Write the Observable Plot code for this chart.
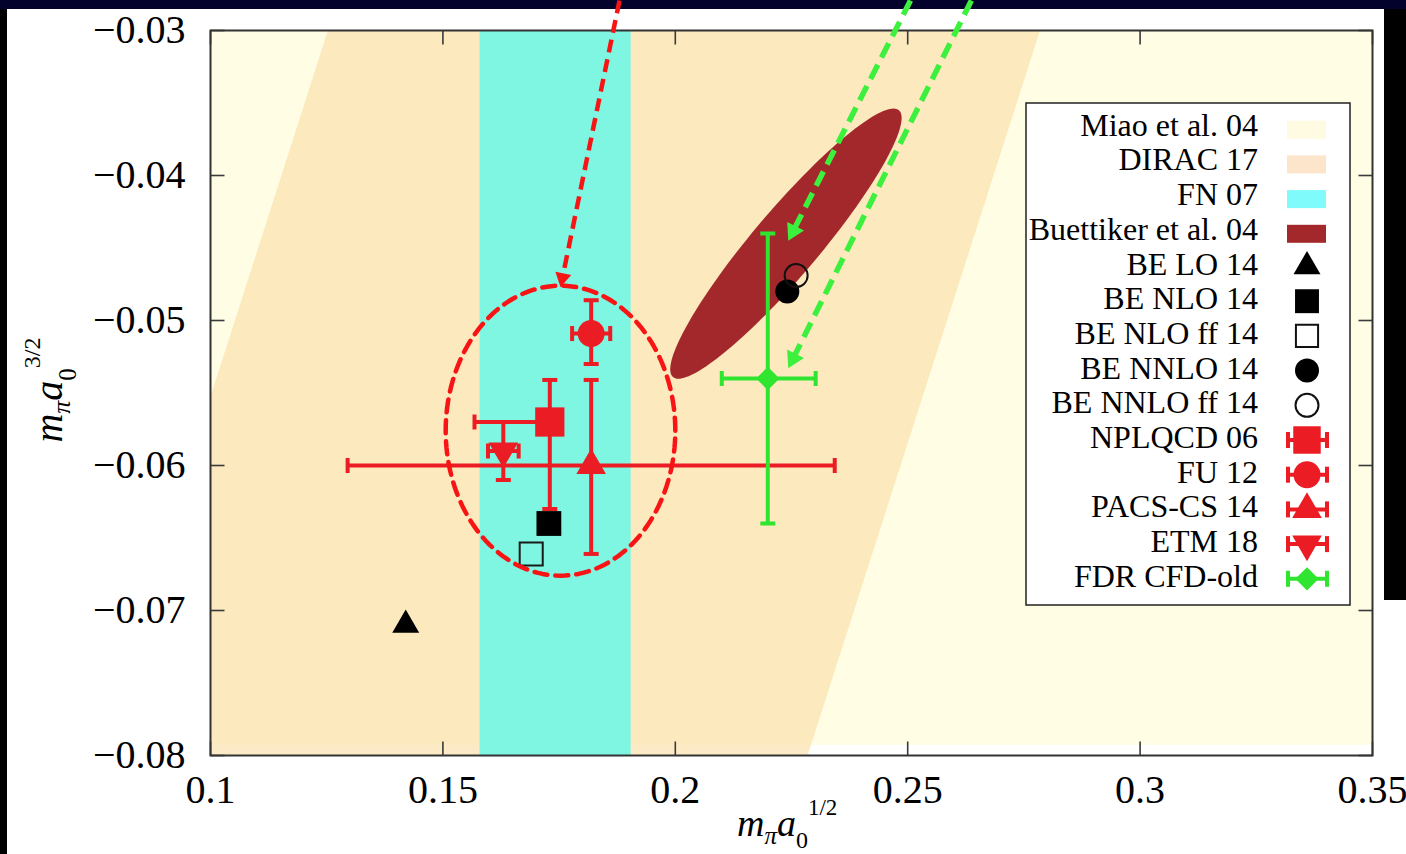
<!DOCTYPE html>
<html><head><meta charset="utf-8">
<script src="https://cdn.jsdelivr.net/npm/d3@7"></script>
<script src="https://cdn.jsdelivr.net/npm/@observablehq/plot@0.6"></script>
<style>
html,body{margin:0;padding:0;background:#000;width:1406px;height:854px;overflow:hidden;}
#navy{position:absolute;left:0;top:0;width:1406px;height:9px;background:#02022c;}
#panel{position:absolute;left:7px;top:9px;width:1377px;height:845px;background:#fff;}
#panel2{position:absolute;left:1384px;top:600px;width:22px;height:254px;background:#fff;}
#chart{position:absolute;left:0;top:0;}
</style></head><body>
<div id="navy"></div><div id="panel"></div><div id="panel2"></div><div id="chart"></div>
<script>
// ---------- data ----------
const xDomain = [0.1, 0.35];
const yDomain = [-0.08, -0.03];
const xTicks = [0.1, 0.15, 0.2, 0.25, 0.3, 0.35];
const xTickLabels = ["0.1", "0.15", "0.2", "0.25", "0.3", "0.35"];
const yTicks = [-0.03, -0.04, -0.05, -0.06, -0.07, -0.08];
const yTickLabels = ["−0.03", "−0.04", "−0.05", "−0.06", "−0.07", "−0.08"];

// bands
const miaoX = [0.1, 0.35];
const miaoY = [-0.0793, -0.03];
const diracY = [-0.03, -0.08];
const diracXLeft = [0.1254, 0.0754];
const diracXRight = [0.2786, 0.2286];
const fnX = [0.158, 0.1905];

// Buettiker et al. 04 ellipse: centre, major and minor half-axis vectors
const buettikerCenter = [0.2238, -0.0447];
const buettikerMajor = [0.0243, 0.0092];
const buettikerMinor = [0.0054, -0.00147];

// BE points (no error bars)
const beNames = ["BE LO 14", "BE NLO 14", "BE NLO ff 14", "BE NNLO 14", "BE NNLO ff 14"];
const beX = [0.1420, 0.1728, 0.1690, 0.2241, 0.2260];
const beY = [-0.0710, -0.0640, -0.0661, -0.0480, -0.0469];

// points with error bars
const lqNames = ["NPLQCD 06", "FU 12", "PACS-CS 14", "ETM 18", "FDR CFD-old"];
const lqX   = [0.1730, 0.1819, 0.1819, 0.1630, 0.2199];
const lqXlo = [0.1568, 0.1778, 0.1295, 0.1597, 0.2100];
const lqXhi = [0.1745, 0.1860, 0.2343, 0.1663, 0.2302];
const lqY   = [-0.0570, -0.0509, -0.0600, -0.0590, -0.0540];
const lqYlo = [-0.0630, -0.0530, -0.0661, -0.0610, -0.0640];
const lqYhi = [-0.0541, -0.0486, -0.0541, -0.0570, -0.0440];

// annotations
const circleCenter = [0.1753, -0.0576];
const circleRadii = [0.0247, 0.0100];
const arrowX1 = [0.1880, 0.2506, 0.2637];
const arrowY1 = [-0.02793, -0.02793, -0.02793];
const arrowX2 = [0.1753, 0.2243, 0.2243];
const arrowY2 = [-0.0477, -0.0445, -0.0533];
const arrowGroup = ["red", "green", "green"];

const legendLabels = ["Miao et al. 04", "DIRAC 17", "FN 07", "Buettiker et al. 04", "BE LO 14", "BE NLO 14",
  "BE NLO ff 14", "BE NNLO 14", "BE NNLO ff 14", "NPLQCD 06", "FU 12", "PACS-CS 14", "ETM 18", "FDR CFD-old"];

// ---------- styling / layout ----------
const W = 1406, H = 854;
const mL = 210, mR = 34, mT = 30, mB = 99;
const xs = d3.scaleLinear(xDomain, [mL, W - mR]);
const ys = d3.scaleLinear(yDomain, [H - mB, mT]);
const RED = "#ec1c24", GREEN = "#2fe52f", BROWN = "#a3282b";
const ARED = "#f81414", AGREEN = "#3ef03e";
const ff = "'Liberation Serif','Times New Roman',serif";

function lineSym(kind) {
  return {draw(ctx, size) {
    const r = Math.sqrt(size / Math.PI);
    if (kind === "v") { ctx.moveTo(0, -r); ctx.lineTo(0, r); }
    else if (kind === "h") { ctx.moveTo(-r, 0); ctx.lineTo(r, 0); }
    else if (kind === "up") { ctx.moveTo(0, 0); ctx.lineTo(0, -r); }
    else if (kind === "down") { ctx.moveTo(0, 0); ctx.lineTo(0, r); }
    else if (kind === "right") { ctx.moveTo(0, 0); ctx.lineTo(r, 0); }
    else { ctx.moveTo(0, 0); ctx.lineTo(-r, 0); }
  }};
}

const diracRows = diracY.map((y, i) => ({y, xl: diracXLeft[i], xr: diracXRight[i]}));
const N = 160;
const buettikerPoly = d3.range(N).map(k => {
  const t = 2 * Math.PI * k / N;
  return {x: buettikerCenter[0] + Math.cos(t) * buettikerMajor[0] + Math.sin(t) * buettikerMinor[0],
          y: buettikerCenter[1] + Math.cos(t) * buettikerMajor[1] + Math.sin(t) * buettikerMinor[1]};
});
const circlePoly = d3.range(N).map(k => {
  const t = 2 * Math.PI * k / N;
  return {x: circleCenter[0] + Math.cos(t) * circleRadii[0], y: circleCenter[1] + Math.sin(t) * circleRadii[1]};
});
const be = beNames.map((n, i) => ({name: n, x: beX[i], y: beY[i]}));
const lq = lqNames.map((n, i) => ({name: n, x: lqX[i], xlo: lqXlo[i], xhi: lqXhi[i], y: lqY[i], ylo: lqYlo[i], yhi: lqYhi[i],
  color: n === "FDR CFD-old" ? GREEN : RED}));

const arrows = arrowX1.map((_, i) => {
  const sx = xs(arrowX1[i]), sy = ys(arrowY1[i]), tx = xs(arrowX2[i]), ty = ys(arrowY2[i]);
  const len = Math.hypot(tx - sx, ty - sy), ux = (tx - sx) / len, uy = (ty - sy) / len;
  const r = arrowGroup[i] === "red" ? 6 : 7;
  const cx = tx - ux * 1.555 * r, cy = ty - uy * 1.555 * r;
  const bx = tx - ux * (2.333 * r - 1.5), by = ty - uy * (2.333 * r - 1.5);
  return {group: arrowGroup[i], x1: arrowX1[i], y1: arrowY1[i], x2: xs.invert(bx), y2: ys.invert(by),
    hx: xs.invert(cx), hy: ys.invert(cy), angle: Math.atan2(ux, -uy) * 180 / Math.PI};
});
const redArrows = arrows.filter(d => d.group === "red");
const greenArrows = arrows.filter(d => d.group === "green");

const tickStyle = {stroke: "#3a3a3a", strokeWidth: 1.6, fill: "none", r: 14};
const byName = n => lq.filter(d => d.name === n);
const beByName = n => be.filter(d => d.name === n);

const chart = Plot.plot({
  width: W, height: H,
  marginLeft: mL, marginRight: mR, marginTop: mT, marginBottom: mB,
  x: {domain: xDomain, label: null},
  y: {domain: yDomain, label: null},
  color: {type: "identity"},
  style: {background: "transparent", overflow: "visible", fontFamily: ff, fontSize: "40px", color: "#000"},
  marks: [
    Plot.rect([0], {x1: () => miaoX[0], x2: () => miaoX[1], y1: () => miaoY[0], y2: () => miaoY[1], fill: "#fffde3"}),
    Plot.areaX(diracRows, {y: "y", x1: "xl", x2: "xr", fill: "#fbe1b0", fillOpacity: 0.72, clip: true}),
    Plot.rect([0], {x1: () => fnX[0], x2: () => fnX[1], y1: () => yDomain[0], y2: () => yDomain[1], fill: "#7ff6e2"}),
    Plot.line(buettikerPoly, {x: "x", y: "y", curve: "linear-closed", fill: BROWN, stroke: "none"}),
    // inward ticks, all four sides
    Plot.dot(xTicks, {x: d => d, y: () => yDomain[0], symbol: lineSym("up"), ...tickStyle}),
    Plot.dot(xTicks, {x: d => d, y: () => yDomain[1], symbol: lineSym("down"), ...tickStyle}),
    Plot.dot(yTicks, {y: d => d, x: () => xDomain[0], symbol: lineSym("right"), ...tickStyle}),
    Plot.dot(yTicks, {y: d => d, x: () => xDomain[1], symbol: lineSym("left"), ...tickStyle}),
    Plot.frame({stroke: "#333", strokeWidth: 2}),
    Plot.axisX({ticks: xTicks, tickSize: 0, tickPadding: 19, tickFormat: d => xTickLabels[xTicks.indexOf(d)], fontSize: 40, fontFamily: ff}),
    Plot.axisY({ticks: yTicks, tickSize: 0, tickPadding: 25, tickFormat: d => yTickLabels[yTicks.indexOf(d)], fontSize: 40, fontFamily: ff}),
    // error bars
    Plot.ruleY(lq, {y: "y", x1: "xlo", x2: "xhi", stroke: "color", strokeWidth: 4}),
    Plot.ruleX(lq, {x: "x", y1: "ylo", y2: "yhi", stroke: "color", strokeWidth: 4}),
    Plot.dot(lq, {x: "xlo", y: "y", symbol: lineSym("v"), r: 7.5, stroke: "color", strokeWidth: 4, fill: "none"}),
    Plot.dot(lq, {x: "xhi", y: "y", symbol: lineSym("v"), r: 7.5, stroke: "color", strokeWidth: 4, fill: "none"}),
    Plot.dot(lq, {x: "x", y: "ylo", symbol: lineSym("h"), r: 7.5, stroke: "color", strokeWidth: 4, fill: "none"}),
    Plot.dot(lq, {x: "x", y: "yhi", symbol: lineSym("h"), r: 7.5, stroke: "color", strokeWidth: 4, fill: "none"}),
    Plot.dot(byName("NPLQCD 06"), {x: "x", y: "y", symbol: "square", r: 16.5, fill: RED}),
    Plot.dot(byName("FU 12"), {x: "x", y: "y", symbol: "circle", r: 13.5, fill: RED}),
    Plot.dot(byName("PACS-CS 14"), {x: "x", y: "y", symbol: "triangle", r: 11, fill: RED}),
    Plot.dot(byName("ETM 18"), {x: "x", y: "y", symbol: "triangle", r: 11, fill: RED, rotate: 180}),
    Plot.dot(byName("FDR CFD-old"), {x: "x", y: "y", symbol: "diamond2", r: 10.5, fill: GREEN}),
    // BE points
    Plot.dot(beByName("BE LO 14"), {x: "x", y: "y", symbol: "triangle", r: 10, fill: "#000"}),
    Plot.dot(beByName("BE NLO 14"), {x: "x", y: "y", symbol: "square", r: 14, fill: "#000"}),
    Plot.dot(beByName("BE NLO ff 14"), {x: "x", y: "y", symbol: "square", r: 13, fill: "none", stroke: "#1a1a1a", strokeWidth: 2}),
    Plot.dot(beByName("BE NNLO 14"), {x: "x", y: "y", symbol: "circle", r: 12, fill: "#000"}),
    Plot.dot(beByName("BE NNLO ff 14"), {x: "x", y: "y", symbol: "circle", r: 11.5, fill: "none", stroke: "#111", strokeWidth: 2}),
    // annotations
    Plot.line(circlePoly, {x: "x", y: "y", curve: "linear-closed", stroke: ARED, strokeWidth: 4.5, strokeDasharray: "13,8"}),
    Plot.link(redArrows, {x1: "x1", y1: "y1", x2: "x2", y2: "y2", stroke: ARED, strokeWidth: 4.5, strokeDasharray: "13,7"}),
    Plot.link(greenArrows, {x1: "x1", y1: "y1", x2: "x2", y2: "y2", stroke: AGREEN, strokeWidth: 5.5, strokeDasharray: "16,8"}),
    Plot.dot(redArrows, {x: "hx", y: "hy", symbol: "triangle", r: 6, fill: ARED, rotate: "angle"}),
    Plot.dot(greenArrows, {x: "hx", y: "hy", symbol: "triangle", r: 7, fill: AGREEN, rotate: "angle"})
  ]
});

// ---------- axis titles and legend ----------
const svg = d3.select(chart);
const xt = svg.append("text").attr("x", 737).attr("y", 836).attr("text-anchor", "start").attr("font-family", ff)
  .attr("font-size", 38).attr("font-style", "italic").attr("fill", "#000");
xt.append("tspan").text("m");
xt.append("tspan").attr("font-size", 25).attr("dy", 8).text("π");
xt.append("tspan").attr("dy", -8).text("a");
xt.append("tspan").attr("font-size", 24).attr("font-style", "normal").attr("dy", 12).text("0");
xt.append("tspan").attr("font-size", 23).attr("font-style", "normal").attr("dy", -33).text("1/2");

const yt = svg.append("text").attr("transform", "translate(62,390) rotate(-90)").attr("text-anchor", "middle")
  .attr("font-family", ff).attr("font-size", 40).attr("font-style", "italic").attr("fill", "#000");
yt.append("tspan").text("m");
yt.append("tspan").attr("font-size", 26).attr("dy", 8).text("π");
yt.append("tspan").attr("dy", -8).text("a");
yt.append("tspan").attr("font-size", 25).attr("font-style", "normal").attr("dy", 14).text("0");
yt.append("tspan").attr("font-size", 24).attr("font-style", "normal").attr("dy", -36).text("3/2");

const lg = svg.append("g");
lg.append("rect").attr("x", 1026).attr("y", 103).attr("width", 324).attr("height", 502)
  .attr("fill", "#fff").attr("stroke", "#222").attr("stroke-width", 1.5);
const legendSpec = [
  {kind: "swatch", color: "#fffbe2"}, {kind: "swatch", color: "#fde5cb"}, {kind: "swatch", color: "#80fbfb"},
  {kind: "swatch", color: BROWN},
  {kind: "sym", type: d3.symbolTriangle, r: 10, fill: "#000"},
  {kind: "sym", type: d3.symbolSquare, r: 13.5, fill: "#000"},
  {kind: "sym", type: d3.symbolSquare, r: 12.5, fill: "none", stroke: "#111"},
  {kind: "sym", type: d3.symbolCircle, r: 12, fill: "#000"},
  {kind: "sym", type: d3.symbolCircle, r: 11.5, fill: "none", stroke: "#111"},
  {kind: "err", type: d3.symbolSquare, r: 15.5, color: RED},
  {kind: "err", type: d3.symbolCircle, r: 13.5, color: RED},
  {kind: "err", type: d3.symbolTriangle, r: 11, color: RED},
  {kind: "err", type: d3.symbolTriangle, r: 11, color: RED, rot: 180},
  {kind: "err", type: d3.symbolDiamond2, r: 10.5, color: GREEN}
];
legendLabels.forEach((label, i) => {
  const base = 135.7 + 34.7 * i;
  lg.append("text").attr("x", 1258).attr("y", base).attr("text-anchor", "end").attr("font-family", ff)
    .attr("font-size", 32).attr("fill", "#000").text(label);
  const s = legendSpec[i];
  const cy = base - 8, cx = 1307;
  if (s.kind === "swatch") {
    lg.append("rect").attr("x", 1287).attr("y", base - 15).attr("width", 39).attr("height", 18).attr("fill", s.color);
  } else if (s.kind === "sym") {
    lg.append("path").attr("d", d3.symbol(s.type, Math.PI * s.r * s.r)()).attr("transform", `translate(${cx},${cy})`)
      .attr("fill", s.fill).attr("stroke", s.stroke || "none").attr("stroke-width", 2);
  } else {
    lg.append("line").attr("x1", 1288).attr("x2", 1327).attr("y1", cy).attr("y2", cy).attr("stroke", s.color).attr("stroke-width", 4);
    [1288, 1327].forEach(x => lg.append("line").attr("x1", x).attr("x2", x).attr("y1", cy - 8).attr("y2", cy + 8)
      .attr("stroke", s.color).attr("stroke-width", 4));
    lg.append("path").attr("d", d3.symbol(s.type, Math.PI * s.r * s.r)())
      .attr("transform", `translate(${cx},${cy}) rotate(${s.rot || 0})`).attr("fill", s.color);
  }
});

document.getElementById("chart").appendChild(chart);
</script></body></html>
